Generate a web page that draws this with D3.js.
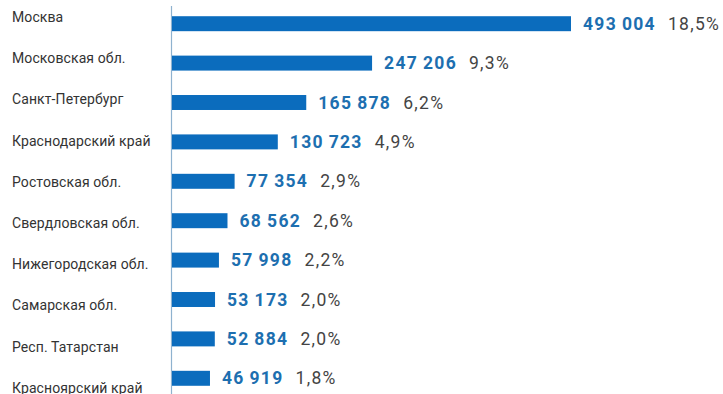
<!DOCTYPE html>
<html>
<head>
<meta charset="utf-8">
<script src="https://cdn.jsdelivr.net/npm/d3@7"></script>
<style>
  html, body { margin: 0; padding: 0; background: #fff; }
  svg { display: block; }
</style>
</head>
<body>
<svg id="chart" width="723" height="394"></svg>
<script>
// Regions and their figures
const regions = [
  "Москва", "Московская обл.", "Санкт-Петербург", "Краснодарский край",
  "Ростовская обл.", "Свердловская обл.", "Нижегородская обл.",
  "Самарская обл.", "Респ. Татарстан", "Красноярский край"
];
const counts = [493004, 247206, 165878, 130723, 77354, 68562, 57998, 53173, 52884, 46919];
const shares = ["18,5%", "9,3%", "6,2%", "4,9%", "2,9%", "2,6%", "2,2%", "2,0%", "2,0%", "1,8%"];

const svg = d3.select("#chart");
const left = 172;

const x = d3.scaleLinear().domain([0, 493004]).range([left, 571]);
const y = d3.scaleBand().domain(regions).range([4, 398]).paddingInner(0.62).paddingOuter(0.31);
const yLabel = d3.scalePoint().domain(regions).range([22, 392.8]);

const fmt = v => d3.format(",")(v).replace(/,/g, "\u2009");

// baseline axis
svg.append("line")
  .attr("x1", left - 0.5).attr("x2", left - 0.5)
  .attr("y1", 6).attr("y2", 394)
  .attr("stroke", "#8fb2cf").attr("stroke-width", 1.2);

// category names
svg.append("g").selectAll("text").data(regions).join("text")
  .attr("x", 12).attr("y", d => yLabel(d))
  .attr("font-family", "Roboto, sans-serif").attr("font-size", 14)
  .attr("letter-spacing", 0.1)
  .attr("fill", "#333").text(d => d);

// bars
svg.append("g").selectAll("rect").data(regions).join("rect")
  .attr("x", left).attr("y", d => y(d))
  .attr("width", (d, i) => x(counts[i]) - left)
  .attr("height", y.bandwidth())
  .attr("fill", "#0b6cbd");

// value labels and shares
const lab = svg.append("g").selectAll("g").data(regions).join("g");
lab.each(function(d, i) {
  const g = d3.select(this);
  const cy = y(d) + y.bandwidth() / 2 + 6;
  const v = g.append("text")
    .attr("x", x(counts[i]) + 12).attr("y", cy)
    .attr("font-family", "Roboto, sans-serif").attr("font-size", 17.5)
    .attr("font-weight", 700).attr("fill", "#1d6fb0")
    .attr("letter-spacing", 1.3)
    .text(fmt(counts[i]));
  const w = v.node().getComputedTextLength();
  g.append("text")
    .attr("x", x(counts[i]) + 12 + w + 12).attr("y", cy)
    .attr("font-family", "Roboto, sans-serif").attr("font-size", 17.5)
    .attr("fill", "#444").attr("letter-spacing", 1.3)
    .text(shares[i]);
});
</script>
</body>
</html>
